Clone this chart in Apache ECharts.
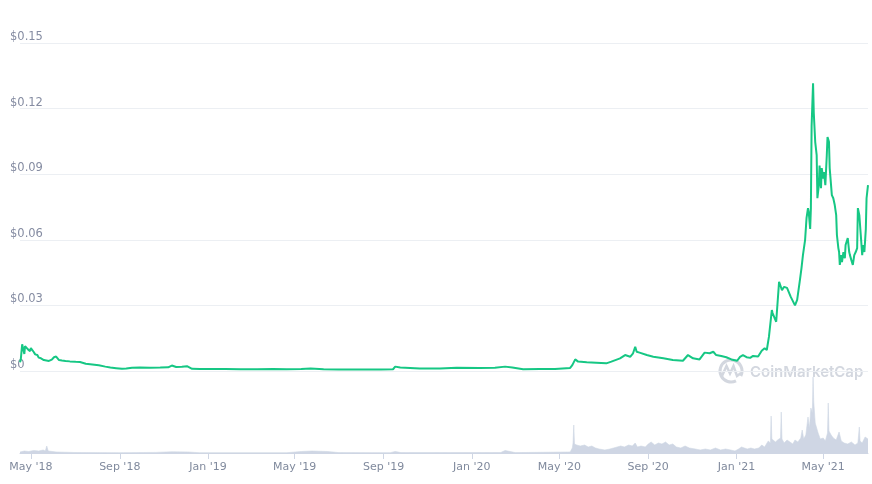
<!DOCTYPE html>
<html>
<head>
<meta charset="utf-8">
<script src="https://cdn.jsdelivr.net/npm/echarts@6/dist/echarts.min.js"></script>
<style>
html,body{margin:0;padding:0;background:#fff;}
#chart{width:872px;height:484px;}
</style>
</head>
<body>
<div id="chart"></div>
<script>
// ---- Price (USD) ----
const priceDates = [
'2018-04-16','2018-04-17','2018-04-19','2018-04-22','2018-04-23','2018-04-24','2018-04-27','2018-04-30',
'2018-05-01','2018-05-03','2018-05-05','2018-05-07','2018-05-10','2018-05-12','2018-05-15','2018-05-19',
'2018-05-26','2018-05-30','2018-06-02','2018-06-05','2018-06-09','2018-06-13','2018-06-18','2018-06-24',
'2018-07-02','2018-07-08','2018-07-16','2018-07-25','2018-08-03','2018-08-12','2018-08-19','2018-08-27',
'2018-09-04','2018-09-10','2018-09-18','2018-09-29','2018-10-13','2018-10-27','2018-11-07','2018-11-12',
'2018-11-18','2018-11-26','2018-12-03','2018-12-10','2018-12-21','2019-01-05','2019-01-25','2019-02-15',
'2019-03-10','2019-04-01','2019-04-20','2019-05-10','2019-05-23','2019-06-10','2019-07-01','2019-07-20',
'2019-08-10','2019-08-28','2019-09-14','2019-09-17','2019-09-24','2019-10-21','2019-11-18','2019-12-11',
'2020-01-12','2020-02-02','2020-02-16','2020-02-26','2020-03-12','2020-04-04','2020-04-25','2020-05-16',
'2020-05-19','2020-05-23','2020-05-27','2020-06-08','2020-06-21','2020-07-05','2020-07-12','2020-07-24',
'2020-07-31','2020-08-07','2020-08-11','2020-08-14','2020-08-16','2020-08-20','2020-08-30','2020-09-08',
'2020-09-22','2020-10-05','2020-10-19','2020-10-26','2020-11-02','2020-11-11','2020-11-18','2020-11-25',
'2020-11-30','2020-12-04','2020-12-11','2020-12-18','2020-12-25','2021-01-02','2021-01-06','2021-01-10',
'2021-01-15','2021-01-20','2021-01-24','2021-01-31','2021-02-05','2021-02-09','2021-02-12','2021-02-15',
'2021-02-19','2021-02-20','2021-02-25','2021-03-01','2021-03-05','2021-03-08','2021-03-12','2021-03-17',
'2021-03-23','2021-03-26','2021-03-30','2021-04-01','2021-04-03','2021-04-06','2021-04-08','2021-04-10',
'2021-04-11','2021-04-13','2021-04-14','2021-04-15','2021-04-17','2021-04-18','2021-04-20','2021-04-22',
'2021-04-23','2021-04-25','2021-04-26','2021-04-28','2021-04-29','2021-05-01','2021-05-02','2021-05-04',
'2021-05-06','2021-05-07','2021-05-09','2021-05-10','2021-05-13','2021-05-15','2021-05-17','2021-05-19',
'2021-05-20','2021-05-22','2021-05-23','2021-05-24','2021-05-26','2021-05-27','2021-05-29','2021-05-31',
'2021-06-01','2021-06-04','2021-06-06','2021-06-07','2021-06-09','2021-06-11','2021-06-13','2021-06-15',
'2021-06-17','2021-06-18','2021-06-20','2021-06-21','2021-06-22','2021-06-24','2021-06-25','2021-06-27',
'2021-06-29','2021-06-30','2021-07-02'
];
const priceValues = [
0.0040,0.0050,0.0122,0.0078,0.0114,0.0120,0.0099,0.0091,
0.0105,0.0099,0.0087,0.0076,0.0073,0.0061,0.0058,0.0050,
0.0046,0.0052,0.0063,0.0066,0.0050,0.0048,0.0046,0.0044,
0.0042,0.0041,0.0033,0.0030,0.0026,0.0020,0.0016,0.0013,
0.0010,0.0011,0.0015,0.0016,0.0015,0.0016,0.0017,0.0025,
0.0018,0.0019,0.0022,0.0010,0.0009,0.0009,0.0009,0.0008,
0.0008,0.0009,0.0008,0.0009,0.0011,0.0008,0.0007,0.0007,
0.0007,0.0007,0.0008,0.0020,0.0016,0.0012,0.0012,0.0015,
0.0014,0.0015,0.0020,0.0016,0.0008,0.0009,0.0009,0.0014,
0.0027,0.0053,0.0043,0.0040,0.0038,0.0035,0.0043,0.0058,
0.0073,0.0065,0.0081,0.0111,0.0088,0.0084,0.0073,0.0065,
0.0058,0.0050,0.0047,0.0073,0.0058,0.0053,0.0084,0.0081,
0.0088,0.0073,0.0069,0.0063,0.0053,0.0047,0.0065,0.0073,
0.0063,0.0060,0.0069,0.0066,0.0093,0.0104,0.0096,0.0157,
0.0279,0.0265,0.0225,0.0408,0.0370,0.0385,0.0380,0.0340,
0.0300,0.0325,0.0420,0.0470,0.0530,0.0600,0.0700,0.0745,
0.0727,0.0650,0.0745,0.1120,0.1316,0.1180,0.1047,0.0987,
0.0790,0.0850,0.0940,0.0836,0.0928,0.0880,0.0910,0.0850,
0.0987,0.1070,0.1048,0.0928,0.0804,0.0790,0.0759,0.0713,
0.0622,0.0562,0.0544,0.0485,0.0530,0.0498,0.0544,0.0516,
0.0576,0.0608,0.0544,0.0530,0.0507,0.0485,0.0530,0.0544,
0.0562,0.0745,0.0713,0.0722,0.0622,0.0530,0.0576,0.0544,
0.0650,0.0790,0.0850
];

// ---- Volume (relative units) ----
const volDates = [
'2018-04-16','2018-04-22','2018-04-28','2018-05-05','2018-05-12','2018-05-18','2018-05-21','2018-05-23',
'2018-05-25','2018-06-05','2018-07-01','2018-09-01','2018-10-20','2018-11-12','2018-12-05','2018-12-20',
'2019-04-20','2019-05-10','2019-05-25','2019-06-15','2019-07-01','2019-09-10','2019-09-17','2019-09-25',
'2020-02-10','2020-02-16','2020-03-01','2020-05-16','2020-05-19','2020-05-20','2020-05-21','2020-05-22',
'2020-05-25','2020-05-30','2020-06-05','2020-06-10','2020-06-15','2020-06-20','2020-06-25','2020-07-03',
'2020-07-10','2020-07-15','2020-07-20','2020-07-25','2020-07-30','2020-08-05','2020-08-10','2020-08-14',
'2020-08-17','2020-08-22','2020-08-28','2020-09-01','2020-09-05','2020-09-10','2020-09-15','2020-09-20',
'2020-09-25','2020-09-30','2020-10-05','2020-10-10','2020-10-16','2020-10-22','2020-10-28','2020-11-05',
'2020-11-12','2020-11-19','2020-11-26','2020-12-03','2020-12-10','2020-12-17','2020-12-24','2020-12-30',
'2021-01-04','2021-01-08','2021-01-12','2021-01-16','2021-01-21','2021-01-26','2021-02-01','2021-02-05',
'2021-02-09','2021-02-14','2021-02-17','2021-02-18','2021-02-19','2021-02-21','2021-02-24','2021-02-27',
'2021-03-01','2021-03-03','2021-03-04','2021-03-05','2021-03-08','2021-03-12','2021-03-16','2021-03-20',
'2021-03-23','2021-03-27','2021-03-31','2021-04-02','2021-04-04','2021-04-07','2021-04-10','2021-04-12',
'2021-04-14','2021-04-16','2021-04-17','2021-04-18','2021-04-20','2021-04-22','2021-04-24','2021-04-27',
'2021-05-01','2021-05-04','2021-05-07','2021-05-08','2021-05-09','2021-05-12','2021-05-15','2021-05-19',
'2021-05-23','2021-05-26','2021-05-30','2021-06-04','2021-06-09','2021-06-14','2021-06-18','2021-06-20',
'2021-06-21','2021-06-24','2021-06-28','2021-07-02'
];
const volValues = [
1,2,1.5,2.5,2,3,2,7,
2,1,0.5,0.3,0.6,1.2,1,0.3,
0.3,1.5,2,1.5,0.4,0.3,1.5,0.4,
0.5,2.5,0.4,1,5,10,28,9,
8,7,8,6,7,5,4,3,
4,5,6,7,6,8,7,10,
6,7,6,9,11,8,10,9,
11,8,9,6,5,7,5,4,
3,4,3,5,3,4,3,2,
4,6,5,4,5,4,5,8,
6,12,10,37,14,15,11,13,
12,15,41,14,10,13,11,9,
13,11,15,23,14,18,36,25,
45,40,76,51,30,28,20,14,
15,12,20,50,22,18,15,13,
21,12,10,9,11,8,10,26,
12,10,16,14
];

// ---- Axis ticks ----
const xMin = '2018-04-16';
const xMax = '2021-07-02';
const tickDates = ['2018-05-01','2018-09-01','2019-01-01','2019-05-01','2019-09-01','2020-01-01',
                   '2020-05-01','2020-09-01','2021-01-01','2021-05-01'];
const tickLabels = ["May '18","Sep '18","Jan '19","May '19","Sep '19","Jan '20",
                    "May '20","Sep '20","Jan '21","May '21"];
const yMin = 0, yMax = 0.15, yStep = 0.03;
const volMax = 78;

const toTime = s => new Date(s + 'T00:00:00').getTime();
const tickTimes = tickDates.map(toTime);
const priceData = priceDates.map((d, i) => [toTime(d), priceValues[i]]);
const volData = volDates.map((d, i) => [toTime(d), volValues[i]]);

const chart = echarts.init(document.getElementById('chart'), null, {renderer: 'canvas'});
const font = 'DejaVu Sans';
chart.setOption({
  animation: false,
  backgroundColor: '#ffffff',
  grid: [
    {left: 20, right: 4, top: 43, height: 328},
    {left: 20, right: 4, top: 375, height: 78}
  ],
  xAxis: [
    {type: 'value', gridIndex: 0, min: toTime(xMin), max: toTime(xMax), show: false,
     splitLine: {show: false}},
    {type: 'value', gridIndex: 1, min: toTime(xMin), max: toTime(xMax),
     axisLine: {show: true, lineStyle: {color: '#cfd6e4', width: 1}},
     axisTick: {show: true, length: 6, lineStyle: {color: '#cfd6e4'}, customValues: tickTimes},
     splitLine: {show: false},
     axisLabel: {
       customValues: tickTimes, margin: 9, color: '#808a9d', fontFamily: font, fontSize: 11,
       showMinLabel: true, showMaxLabel: true,
       formatter: v => { const i = tickTimes.indexOf(+v); return i >= 0 ? tickLabels[i] : ''; }
     }}
  ],
  yAxis: [
    {type: 'value', gridIndex: 0, min: yMin, max: yMax, interval: yStep,
     axisLine: {show: false}, axisTick: {show: false},
     splitLine: {show: true, lineStyle: {color: '#eceff3', width: 1}},
     axisLabel: {inside: true, margin: -10, verticalAlign: 'bottom', color: '#858ca2',
       fontFamily: font, fontSize: 11.5,
       formatter: v => v === 0 ? '$0' : '$' + v.toFixed(2)}},
    {type: 'value', gridIndex: 1, min: 0, max: volMax, show: false, splitLine: {show: false}}
  ],
  graphic: [
    {type: 'group', z: 1, silent: true, children: [
      {type: 'arc', shape: {cx: 731, cy: 371, r: 11, startAngle: Math.PI * 0.35, endAngle: Math.PI * 2.15},
       style: {stroke: '#d3d7df', lineWidth: 3, fill: null}},
      {type: 'polyline', shape: {points: [[722, 376], [726.5, 366], [730, 373.5], [733.5, 366], [737, 376], [741, 373]]},
       style: {stroke: '#d3d7df', lineWidth: 2.5, fill: null}},
      {type: 'text', x: 750, y: 372, style: {text: 'CoinMarketCap', fill: '#d3d7df',
        font: '600 15px Inter', textVerticalAlign: 'middle'}}
    ]}
  ],
  series: [
    {type: 'line', name: 'Volume', xAxisIndex: 1, yAxisIndex: 1, data: volData,
     showSymbol: false, symbol: 'none', lineStyle: {width: 0.6, color: '#cfd6e4'},
     areaStyle: {color: '#cfd6e4', opacity: 1}, z: 2},
    {type: 'line', name: 'Price', xAxisIndex: 0, yAxisIndex: 0, data: priceData,
     showSymbol: false, symbol: 'none', lineStyle: {width: 2, color: '#16c784'}, z: 3}
  ]
});
</script>
</body>
</html>
